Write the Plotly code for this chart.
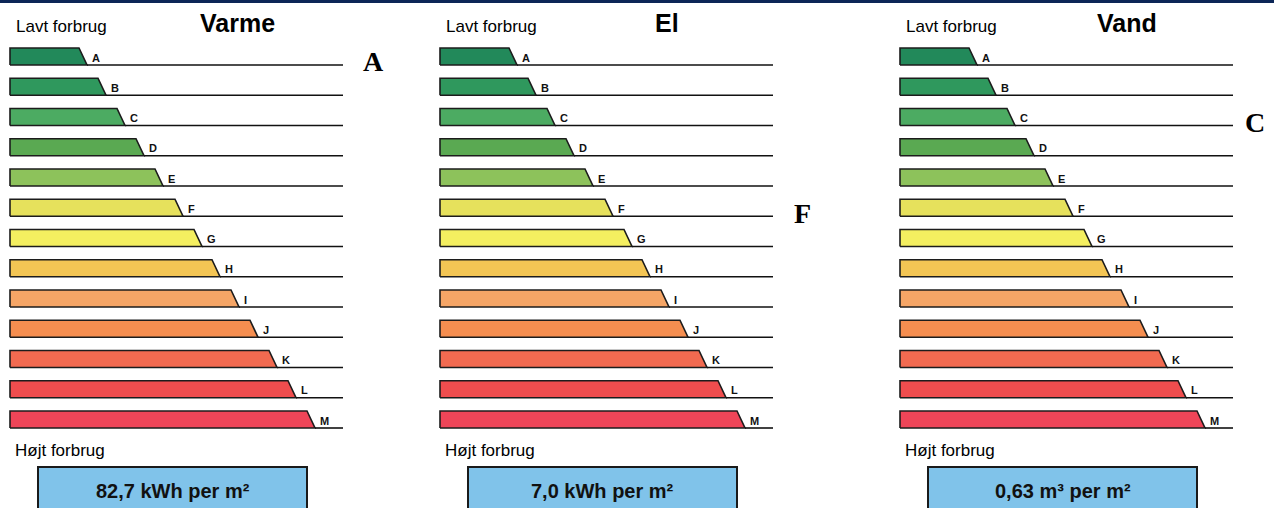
import plotly.graph_objects as go

# ---------------- data ----------------
classes = ["A", "B", "C", "D", "E", "F", "G", "H", "I", "J", "K", "L", "M"]
class_bar_length = [77, 96, 115, 134, 153, 173, 192, 210, 229, 248, 267, 286, 305]
class_colors = ["#22895a", "#2f985d", "#4cab62", "#5aa952", "#8dc25b", "#e6e15c",
                "#f4ef60", "#f3c554", "#f5a566", "#f58e50", "#f26a50", "#ef4d4e", "#ee4558"]
panel_titles = ["Varme", "El", "Vand"]
panel_ratings = ["A", "F", "C"]
panel_values = ["82,7 kWh per m²", "7,0 kWh per m²", "0,63 m³ per m²"]
low_label = "Lavt forbrug"
high_label = "Højt forbrug"

# ---------------- layout constants ----------------
W, H = 1274, 508
panel_origin_px = [10, 440, 900]
panel_w = 384
row0_px, pitch_px = 65, 30.25
bar_h = 17 / pitch_px
slant = 8
line_end = 333
rating_x = [363, 362, 355]
title_x = 227
box_x0, box_x1 = 28, 297


def row(px):
    return (px - row0_px) / pitch_px


fig = go.Figure()
layout_axes = {}
annotations = []
shapes = []

for p, origin in enumerate(panel_origin_px):
    xa = "x" if p == 0 else f"x{p+1}"
    xname = "xaxis" if p == 0 else f"xaxis{p+1}"
    d0 = (origin - 10) / W
    d1 = (origin - 10 + panel_w) / W
    layout_axes[xname] = dict(domain=[d0, d1], range=[-10, panel_w - 10], visible=False,
                              fixedrange=True)

    for i, (c, L, col) in enumerate(zip(classes, class_bar_length, class_colors)):
        # trapezoid bar
        fig.add_trace(go.Scatter(
            x=[0, 0, L - slant, L, 0], y=[i, i - bar_h, i - bar_h, i, i],
            mode="lines", fill="toself", fillcolor=col,
            line=dict(color="#1c1c1c", width=1.6), xaxis=xa, yaxis="y",
            hoverinfo="skip", showlegend=False))
        # baseline continuing to the right
        fig.add_trace(go.Scatter(
            x=[L, line_end], y=[i, i], mode="lines",
            line=dict(color="#111111", width=1.6), xaxis=xa, yaxis="y",
            hoverinfo="skip", showlegend=False))
        annotations.append(dict(
            x=L + 3, y=i - 0.24, xref=xa, yref="y", text=f"<b>{c}</b>",
            showarrow=False, xanchor="left", yanchor="middle",
            font=dict(family="Arial, Liberation Sans", size=11, color="#111")))

    # rating letter
    r_idx = classes.index(panel_ratings[p])
    annotations.append(dict(
        x=rating_x[p], y=r_idx - 0.1, xref=xa, yref="y",
        text=f"<b>{panel_ratings[p]}</b>", showarrow=False,
        xanchor="center", yanchor="middle",
        font=dict(family="Liberation Serif, Times New Roman", size=28, color="#000")))

    # title
    annotations.append(dict(
        x=title_x, y=row(23), xref=xa, yref="y", text=f"<b>{panel_titles[p]}</b>",
        showarrow=False, xanchor="center", yanchor="middle",
        font=dict(family="Arial, Liberation Sans", size=25, color="#000")))
    # low / high labels
    annotations.append(dict(
        x=4, y=row(26), xref=xa, yref="y", text=low_label, showarrow=False,
        xanchor="left", yanchor="middle",
        font=dict(family="Arial, Liberation Sans", size=17, color="#000")))
    annotations.append(dict(
        x=3, y=row(450), xref=xa, yref="y", text=high_label, showarrow=False,
        xanchor="left", yanchor="middle",
        font=dict(family="Arial, Liberation Sans", size=17, color="#000")))

    # value box
    shapes.append(dict(type="rect", xref=xa, yref="y", x0=box_x0, x1=box_x1,
                       y0=row(467), y1=row(530), fillcolor="#80c3ea",
                       line=dict(color="#1a1a1a", width=2), layer="below"))
    annotations.append(dict(
        x=(box_x0 + box_x1) / 2, y=row(491), xref=xa, yref="y",
        text=f"<b>{panel_values[p]}</b>", showarrow=False,
        xanchor="center", yanchor="middle",
        font=dict(family="Arial, Liberation Sans", size=20, color="#111")))

# dark top rule
shapes.append(dict(type="rect", xref="paper", yref="paper", x0=0, x1=1,
                   y0=1 - 3 / H, y1=1.01, fillcolor="#0c2657", line=dict(width=0)))

fig.update_layout(
    width=W, height=H, margin=dict(l=0, r=0, t=0, b=0),
    paper_bgcolor="white", plot_bgcolor="white", showlegend=False,
    yaxis=dict(range=[row(H), row(0)], visible=False, fixedrange=True),
    annotations=annotations, shapes=shapes,
    **layout_axes)

fig.write_html("out.html", config={"displayModeBar": False},
               post_script="document.body.style.margin='0';document.body.style.overflow='hidden';")
